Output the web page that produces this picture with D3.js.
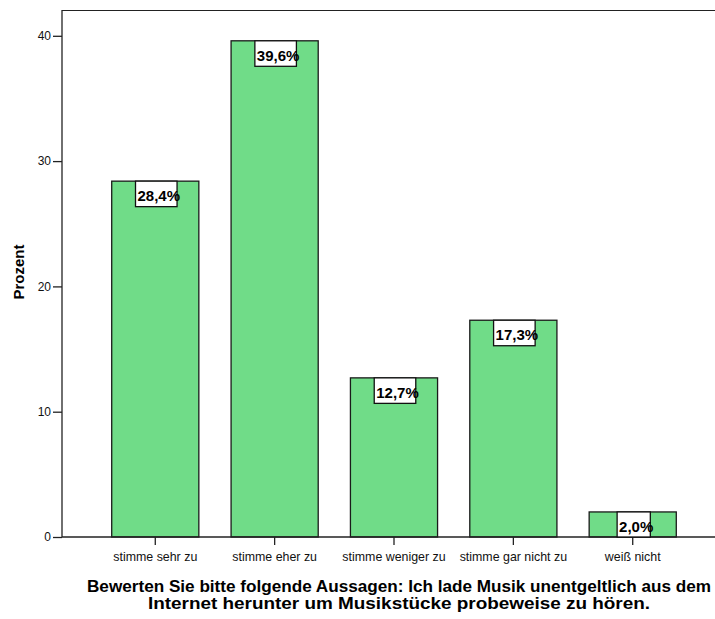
<!DOCTYPE html>
<html><head><meta charset="utf-8">
<script src="https://cdn.jsdelivr.net/npm/d3@7"></script>
<style>body{margin:0;background:#fff}svg{display:block}text{font-family:Arial,"Liberation Sans",sans-serif}</style>
</head><body>
<svg id="c" width="715" height="619"></svg>
<script>
const categories = ["stimme sehr zu","stimme eher zu","stimme weniger zu","stimme gar nicht zu","weiß nicht"];
const values = [28.4, 39.6, 12.7, 17.3, 2.0];
const valueLabels = ["28,4%","39,6%","12,7%","17,3%","2,0%"];
const yTicks = [0,10,20,30,40];
const yLabel = "Prozent";
const titleLines = ["Bewerten Sie bitte folgende Aussagen: Ich lade Musik unentgeltlich aus dem","Internet herunter um Musikstücke probeweise zu hören."];

(function(){
const svg = d3.select("#c");
const pLeft = 62, pTop = 10, pRight = 715, pBottom = 537;
const y = d3.scaleLinear().domain([0, 40]).range([pBottom, pBottom - 501.2]);
const x = d3.scaleBand().domain(categories).range([95.6, 692.4]).paddingInner(0.27).paddingOuter(0.135);

// frame
svg.append("line").attr("x1", pLeft).attr("x2", pRight).attr("y1", pTop + 0.5).attr("y2", pTop + 0.5).attr("stroke", "#222").attr("stroke-width", 1.2);

// bars
svg.selectAll("rect.bar").data(values).join("rect").attr("class","bar")
  .attr("x", (d,i) => x(categories[i]))
  .attr("width", x.bandwidth())
  .attr("y", d => y(d))
  .attr("height", d => y(0) - y(d))
  .attr("fill", "#70dc88").attr("stroke", "#1a1a1a").attr("stroke-width", 1.3);

// y axis
const ya = svg.append("g").attr("transform", `translate(${pLeft},0)`)
  .call(d3.axisLeft(y).tickValues(yTicks).tickSize(9).tickPadding(2).tickFormat(d3.format("d")));
ya.select(".domain").attr("d", `M0,${pTop}V${pBottom}`).attr("stroke","#222").attr("stroke-width",1.3);
ya.selectAll(".tick line").attr("stroke","#222").attr("stroke-width",1.3);
ya.selectAll(".tick text").attr("font-size", 12).attr("fill", "#111");

// x axis
const xa = svg.append("g").attr("transform", `translate(0,${pBottom})`)
  .call(d3.axisBottom(x).tickSize(8).tickPadding(7));
xa.select(".domain").attr("d", `M${pLeft},0H${pRight}`).attr("stroke","#222").attr("stroke-width",1.3);
xa.selectAll(".tick line").attr("stroke","#222").attr("stroke-width",1.3);
xa.selectAll(".tick text").attr("font-size", 12.4).attr("fill", "#111");

// value labels
const lg = svg.selectAll("g.vl").data(values).join("g").attr("class","vl");
lg.each(function(d,i){
  const g = d3.select(this);
  const cx = x(categories[i]) + x.bandwidth()/2 + 1;
  const t = g.append("text").attr("font-size", 15).attr("font-weight","bold").attr("fill","#000")
    .attr("y", y(d) + 20).text(valueLabels[i]);
  const w = t.node().getComputedTextLength();
  const bw = w - 1;
  const bx = cx - bw/2;
  const bh = Math.min(25.5, y(0) - y(d));
  g.insert("rect","text").attr("x", bx).attr("y", y(d)).attr("width", bw).attr("height", bh)
    .attr("fill","#fff").attr("stroke","#111").attr("stroke-width",1.3);
  t.attr("x", bx + 2);
});

// y label
svg.append("text").attr("transform", "translate(23.5,272) rotate(-90)").attr("text-anchor","middle")
  .attr("font-size", 15).attr("font-weight","bold").text(yLabel);

// title
const tLens = [624, 502];
svg.append("text").attr("text-anchor","middle").attr("font-size",16).attr("font-weight","bold")
  .selectAll("tspan").data(titleLines).join("tspan")
  .attr("x", 399).attr("y", (d,i) => 592 + i*17)
  .attr("textLength", (d,i) => tLens[i]).attr("lengthAdjust","spacingAndGlyphs").text(d => d);
})();
</script>
</body></html>
